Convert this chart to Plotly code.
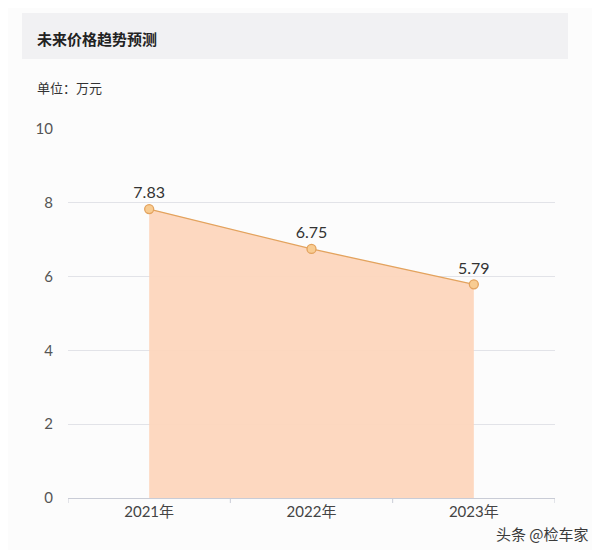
import plotly.graph_objects as go

categories = ["2021年", "2022年", "2023年"]
prices = [7.83, 6.75, 5.79]
y_ticks = [0, 2, 4, 6, 8, 10]

# page body has an 8px margin, so the figure starts at (8, 8) on screen
OFF = 8
W, H = 600 - OFF, 550 - OFF
L, R, T, B = 68 - OFF, 45, 129 - OFF, 52
pw, ph = W - L - R, H - T - B


def px(x):
    return (x - OFF - L) / pw


def py(y):
    return (H - B - (y - OFF)) / ph


cjk = "Noto Sans CJK SC, sans-serif"
num = "Lato, Noto Sans CJK SC, sans-serif"

fig = go.Figure()
fig.add_trace(go.Scatter(
    x=categories, y=prices, mode="lines+markers+text",
    fill="tozeroy", fillcolor="rgba(253,214,189,0.95)",
    line=dict(color="#e3a35e", width=1.3),
    marker=dict(size=9, color="#f8cc92", line=dict(color="#e3a35e", width=1.3)),
    text=[f"{v:.2f}" for v in prices], textposition="top center",
    textfont=dict(size=16, color="#333333", family=num),
    cliponaxis=False, showlegend=False, hoverinfo="skip",
))

fig.update_layout(
    width=W, height=H,
    margin=dict(l=L, r=R, t=T, b=B),
    paper_bgcolor="#fcfcfc", plot_bgcolor="#fcfcfc",
    font=dict(family=num, color="#555555"),
    xaxis=dict(
        type="category", range=[-0.5, 2.5], showgrid=False,
        showline=True, linecolor="#c9ccd6", linewidth=1,
        ticks="", tickfont=dict(size=15, color="#444444", family=num),
        zeroline=False, fixedrange=True,
    ),
    yaxis=dict(
        range=[0, 10], tickvals=y_ticks, showgrid=True, gridcolor="#e2e3e8",
        gridwidth=1, zeroline=False, showline=False, ticks="",
        tickfont=dict(size=15, color="#555555", family=num), ticklabelstandoff=14,
        fixedrange=True,
    ),
    shapes=[
        dict(type="rect", xref="paper", yref="paper",
             x0=px(22), x1=px(568), y0=py(59), y1=py(13),
             fillcolor="#f1f1f3", line=dict(width=0), layer="below"),
    ] + [
        dict(type="line", xref="x", yref="paper",
             x0=b, x1=b, y0=0, y1=py(503),
             line=dict(color="#c9ccd6", width=1))
        for b in [-0.5, 0.5, 1.5, 2.5]
    ],
    annotations=[
        dict(text="<b>未来价格趋势预测</b>", xref="paper", yref="paper",
             x=px(35), y=py(38), xanchor="left", yanchor="middle",
             showarrow=False, font=dict(size=15, color="#222222", family=cjk)),
        dict(text="单位：万元", xref="paper", yref="paper",
             x=px(35), y=py(88), xanchor="left", yanchor="middle",
             showarrow=False, font=dict(size=13, color="#333333", family=cjk)),
        dict(text="头条 @检车家", xref="paper", yref="paper",
             x=px(591), y=py(533), xanchor="right", yanchor="middle",
             showarrow=False, font=dict(size=15, color="#3a3a3a", family=cjk)),
    ],
)

fig.write_html("out.html")
